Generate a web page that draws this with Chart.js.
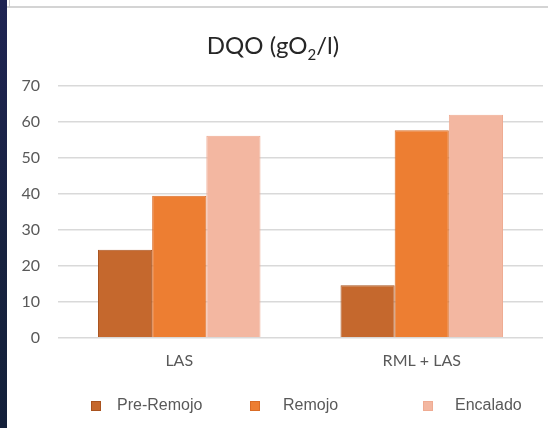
<!DOCTYPE html>
<html>
<head>
<meta charset="utf-8">
<script src="https://cdn.jsdelivr.net/npm/chart.js@4/dist/chart.umd.min.js"></script>
<style>
  html, body { margin: 0; padding: 0; background: #ffffff; }
  #wrap { position: relative; width: 548px; height: 428px; overflow: hidden; background: #ffffff; }
  #stripe { position: absolute; left: 0; top: 0; width: 7px; height: 428px;
            background: linear-gradient(#1f2453, #17223f 60%, #13203a); }
  #topline { position: absolute; left: 7px; top: 6px; width: 541px; height: 2px; background: #d4d4d4; }
  #tick { position: absolute; left: 9px; top: 0; width: 1px; height: 7px; background: #cfcfcf; }
  canvas { position: absolute; left: 0; top: 0; }
</style>
</head>
<body>
<div id="wrap">
  <canvas id="c" width="548" height="428"></canvas>
  <div id="stripe"></div>
  <div id="topline"></div>
  <div id="tick"></div>
</div>
<script>
// DQO measured per process stage, for each treatment
const categories = ['LAS', 'RML + LAS'];
const seriesNames = ['Pre-Remojo', 'Remojo', 'Encalado'];
const preRemojo = [24.5, 14.6];
const remojo = [39.5, 57.7];
const encalado = [56.2, 62.0];
const yTicks = [0, 10, 20, 30, 40, 50, 60, 70];

const fills = ['#c5682d', '#ed7e32', '#f3b7a1'];
const borders = ['#a9531f', '#d96c26', '#efab92'];
const values = [preRemojo, remojo, encalado];

const textGrey = '#595959';

// Title with a subscripted "2", drawn centred above the plot
const titlePlugin = {
  id: 'dqoTitle',
  afterDraw(chart) {
    const ctx = chart.ctx;
    const big = '24px Lato, "Open Sans", sans-serif';
    const small = '15px Lato, "Open Sans", sans-serif';
    const parts = [['DQO (gO', big, 0], ['2', small, 6], ['/l)', big, 0]];
    let total = 0;
    parts.forEach(p => { ctx.font = p[1]; total += ctx.measureText(p[0]).width; });
    let x = 273 - total / 2;
    const y = 54;
    ctx.save();
    ctx.fillStyle = '#262626';
    ctx.textBaseline = 'alphabetic';
    parts.forEach(p => {
      ctx.font = p[1];
      ctx.fillText(p[0], x, y + p[2]);
      x += ctx.measureText(p[0]).width;
    });
    ctx.restore();
  }
};

// Legend row under the category labels
const legendBoxX = [91, 250, 423];
const legendTextX = [117, 283, 455];
const legendPlugin = {
  id: 'bottomLegend',
  afterDraw(chart) {
    const ctx = chart.ctx;
    ctx.save();
    ctx.font = '16px "Liberation Sans", Arial, sans-serif';
    ctx.textBaseline = 'middle';
    chart.data.datasets.forEach((ds, i) => {
      const x = legendBoxX[i];
      const y = 406;
      ctx.fillStyle = ds.backgroundColor;
      ctx.fillRect(x, y - 5, 10, 10);
      ctx.strokeStyle = ds.borderColor;
      ctx.lineWidth = 1;
      ctx.strokeRect(x + 0.5, y - 4.5, 9, 9);
      ctx.fillStyle = textGrey;
      ctx.fillText(ds.label, legendTextX[i], y);
    });
    ctx.restore();
  }
};

new Chart(document.getElementById('c'), {
  type: 'bar',
  data: {
    labels: categories,
    datasets: seriesNames.map((name, i) => ({
      label: name,
      data: values[i],
      backgroundColor: fills[i],
      borderColor: borders[i],
      borderWidth: 1,
      categoryPercentage: 0.67,
      barPercentage: 1.0
    }))
  },
  options: {
    responsive: false,
    animation: false,
    events: [],
    layout: { padding: { top: 86, left: 10, right: 5, bottom: 45 } },
    plugins: {
      legend: { display: false },
      title: { display: false },
      tooltip: { enabled: false }
    },
    scales: {
      x: {
        grid: { display: false, drawTicks: false },
        border: { display: false },
        ticks: {
          color: textGrey,
          font: { family: 'Lato, "Open Sans", sans-serif', size: 16 },
          padding: 13
        }
      },
      y: {
        min: 0,
        max: 70,
        afterBuildTicks(axis) { axis.ticks = yTicks.map(v => ({ value: v })); },
        afterFit(axis) { axis.width = 48; },
        grid: { color: '#d9d9d9', lineWidth: 1.5, drawTicks: false },
        border: { display: false },
        ticks: {
          color: textGrey,
          font: { family: 'Lato, "Open Sans", sans-serif', size: 16 },
          padding: 18
        }
      }
    }
  },
  plugins: [titlePlugin, legendPlugin]
});
</script>
</body>
</html>
